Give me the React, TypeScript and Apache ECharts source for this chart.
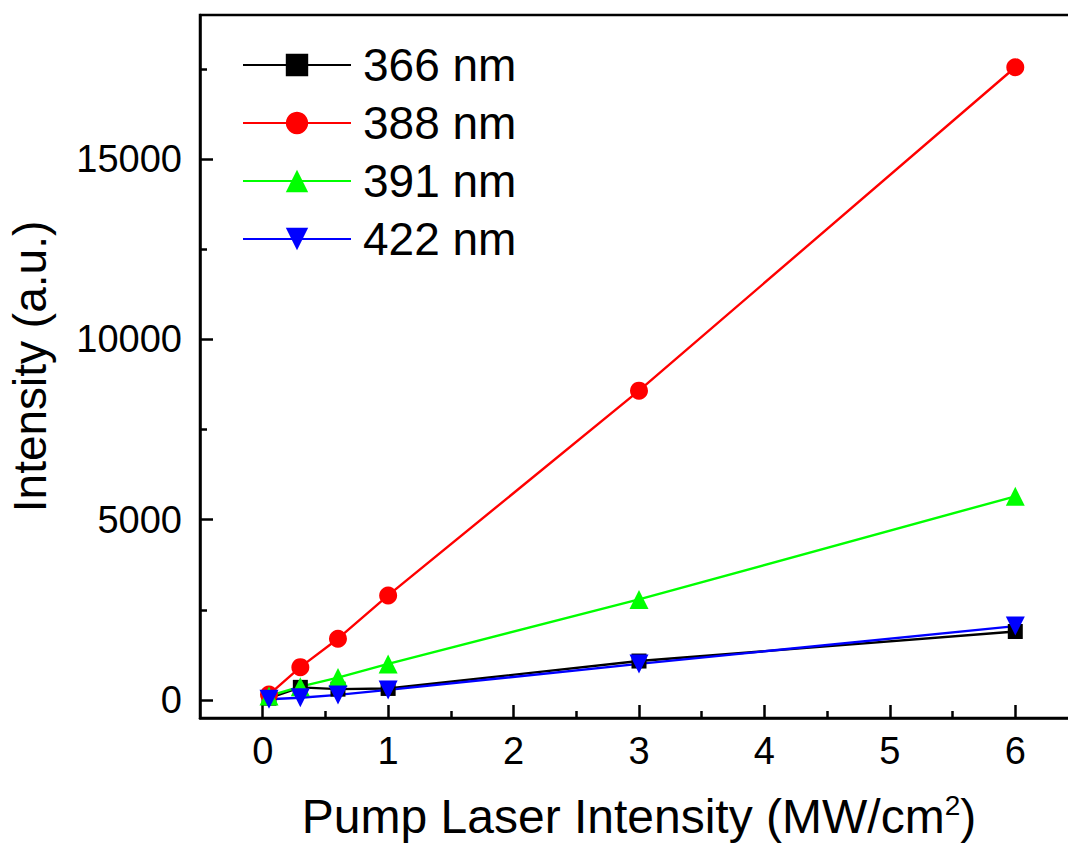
import React, { useEffect, useRef } from "react";
import * as echarts from "echarts";

const xValues = [0.05, 0.3, 0.6, 1, 3, 6];
const s366 = [50, 350, 300, 320, 1080, 1900];
const s388 = [150, 910, 1700, 2900, 8580, 17550];
const s391 = [110, 370, 620, 1000, 2790, 5650];
const s422 = [20, 60, 140, 280, 1000, 2050];
const seriesNames = ["366 nm", "388 nm", "391 nm", "422 nm"];
const xMajor = [0, 1, 2, 3, 4, 5, 6];
const xMinor = [0.5, 1.5, 2.5, 3.5, 4.5, 5.5];
const yMajor = [0, 5000, 10000, 15000];
const yMinor = [2500, 7500, 12500, 17500];

const FONT = "Liberation Sans";

export default function App() {
  const ref = useRef<HTMLDivElement>(null);
  useEffect(() => {
    if (!ref.current) return;
    const chart = echarts.init(ref.current, undefined, { renderer: "svg" });
    const mk = (name: string, data: number[], color: string, symbol: string, size: number, rot = 0) => ({
      type: "line",
      name,
      data: xValues.map((x, i) => [x, data[i]]),
      symbol,
      symbolSize: size,
      symbolRotate: rot,
      lineStyle: { color, width: 2.4 },
      itemStyle: { color },
      color,
    });
    const xBase = {
      type: "value",
      min: -0.5,
      max: 6.5,
      splitLine: { show: false },
      axisLine: { show: true, onZero: false, lineStyle: { color: "#000", width: 2.5 } },
    };
    const yBase = {
      type: "value",
      min: -500,
      max: 19000,
      splitLine: { show: false },
      axisLine: { show: true, onZero: false, lineStyle: { color: "#000", width: 2.5 } },
    };
    chart.setOption({
      animation: false,
      grid: {
        left: 200,
        top: 15,
        bottom: 126,
        width: 878,
        outerBoundsMode: "none",
        containLabel: false,
        show: true,
        borderColor: "#000",
        borderWidth: 2.5,
        backgroundColor: "transparent",
      },
      legend: {
        orient: "vertical",
        left: 237,
        top: 37,
        itemWidth: 108,
        itemHeight: 28,
        itemGap: 12,
        data: seriesNames,
        textStyle: { fontFamily: FONT, fontSize: 46, color: "#000", padding: [0, 0, 0, 7] },
      },
      xAxis: [
        {
          ...xBase,
          name: "Pump Laser Intensity (MW/cm{sup|2})",
          nameLocation: "middle",
          nameGap: 73,
          nameTextStyle: {
            fontFamily: FONT,
            fontSize: 48,
            color: "#000",
            rich: {
              sup: { fontFamily: FONT, fontSize: 28, color: "#000", verticalAlign: "top", padding: [0, 0, 22, 0] },
            },
          },
          axisTick: { show: true, inside: true, length: 13, customValues: xMajor, lineStyle: { color: "#000", width: 2.5 } },
          axisLabel: {
            show: true,
            customValues: xMajor,
            margin: 14,
            fontFamily: FONT,
            fontSize: 38,
            color: "#000",
            formatter: (v: number) => String(v),
          },
        },
        {
          ...xBase,
          position: "bottom",
          axisLine: { show: false, onZero: false },
          axisTick: { show: true, inside: true, length: 7, customValues: xMinor, lineStyle: { color: "#000", width: 2.5 } },
          axisLabel: { show: false },
        },
      ],
      yAxis: [
        {
          ...yBase,
          name: "Intensity (a.u.)",
          nameLocation: "middle",
          nameGap: 147,
          nameTextStyle: { fontFamily: FONT, fontSize: 46, color: "#000" },
          axisTick: { show: true, inside: true, length: 13, customValues: yMajor, lineStyle: { color: "#000", width: 2.5 } },
          axisLabel: {
            show: true,
            customValues: yMajor,
            margin: 18,
            fontFamily: FONT,
            fontSize: 38,
            color: "#000",
            formatter: (v: number) => String(v),
          },
        },
        {
          ...yBase,
          position: "left",
          axisLine: { show: false, onZero: false },
          axisTick: { show: true, inside: true, length: 7, customValues: yMinor, lineStyle: { color: "#000", width: 2.5 } },
          axisLabel: { show: false },
        },
      ],
      series: [
        mk(seriesNames[0], s366, "#000000", "rect", 15),
        mk(seriesNames[1], s388, "#ff0000", "circle", 18),
        mk(seriesNames[2], s391, "#00ff00", "triangle", 19),
        mk(seriesNames[3], s422, "#0000ff", "triangle", 19, 180),
      ],
    });
    return () => chart.dispose();
  }, []);
  return <div ref={ref} style={{ width: 1068, height: 844, position: "absolute", left: 0, top: 0, overflow: "hidden" }} />;
}
